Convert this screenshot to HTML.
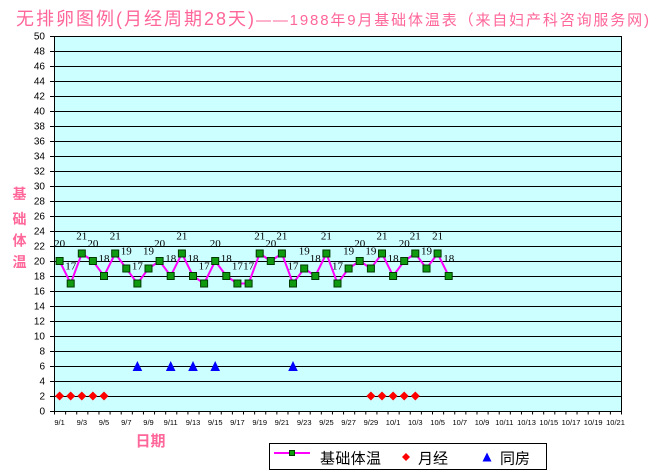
<!DOCTYPE html>
<html><head><meta charset="utf-8"><style>
html,body{margin:0;padding:0;background:#fff;}
svg{display:block;}
</style></head><body>
<svg width="650" height="473" viewBox="0 0 650 473" xmlns="http://www.w3.org/2000/svg">
<rect x="0" y="0" width="650" height="473" fill="#fff"/>
<!-- title -->
<text x="16" y="25" font-family="'Liberation Sans','Noto Sans CJK SC',sans-serif" font-size="18" fill="#FF6699" textLength="238" lengthAdjust="spacing">无排卵图例(月经周期28天)</text>
<text x="256" y="25" font-family="'Liberation Sans','Noto Sans CJK SC',sans-serif" font-size="15" fill="#FF6699" textLength="393" lengthAdjust="spacing">——1988年9月基础体温表（来自妇产科咨询服务网)</text>
<!-- plot area -->
<rect x="54.5" y="36.5" width="567" height="375" fill="#CCFFFF" stroke="none"/>
<g stroke="#000" stroke-width="1">
<path d="M54 396.5H621M54 381.5H621M54 366.5H621M54 351.5H621M54 336.5H621M54 321.5H621M54 306.5H621M54 291.5H621M54 276.5H621M54 261.5H621M54 246.5H621M54 231.5H621M54 216.5H621M54 201.5H621M54 186.5H621M54 171.5H621M54 156.5H621M54 141.5H621M54 126.5H621M54 111.5H621M54 96.5H621M54 81.5H621M54 66.5H621M54 51.5H621"/>
</g>
<rect x="54.5" y="36.5" width="567" height="375" fill="none" stroke="#000" stroke-width="1"/>
<!-- axis ticks -->
<line x1="54" y1="413" x2="622" y2="413" stroke="#000" stroke-width="3" stroke-dasharray="1 10.118"/>
<line x1="52" y1="412" x2="52" y2="35" stroke="#000" stroke-width="4" stroke-dasharray="1 14"/>
<!-- y labels -->
<g font-family="'Liberation Sans',sans-serif" font-size="10" fill="#000" text-anchor="end">
<text x="45" y="414.5">0</text><text x="45" y="399.5">2</text><text x="45" y="384.5">4</text><text x="45" y="369.5">6</text><text x="45" y="354.5">8</text><text x="45" y="339.5">10</text><text x="45" y="324.5">12</text><text x="45" y="309.5">14</text><text x="45" y="294.5">16</text><text x="45" y="279.5">18</text><text x="45" y="264.5">20</text><text x="45" y="249.5">22</text><text x="45" y="234.5">24</text><text x="45" y="219.5">26</text><text x="45" y="204.5">28</text><text x="45" y="189.5">30</text><text x="45" y="174.5">32</text><text x="45" y="159.5">34</text><text x="45" y="144.5">36</text><text x="45" y="129.5">38</text><text x="45" y="114.5">40</text><text x="45" y="99.5">42</text><text x="45" y="84.5">44</text><text x="45" y="69.5">46</text><text x="45" y="54.5">48</text><text x="45" y="39.5">50</text>
</g>
<!-- x labels -->
<g font-family="'Liberation Sans',sans-serif" font-size="7.5" fill="#000" text-anchor="middle">
<text x="59.6" y="425">9/1</text><text x="81.8" y="425">9/3</text><text x="104.0" y="425">9/5</text><text x="126.3" y="425">9/7</text><text x="148.5" y="425">9/9</text><text x="170.7" y="425">9/11</text><text x="193.0" y="425">9/13</text><text x="215.2" y="425">9/15</text><text x="237.4" y="425">9/17</text><text x="259.7" y="425">9/19</text><text x="281.9" y="425">9/21</text><text x="304.2" y="425">9/23</text><text x="326.4" y="425">9/25</text><text x="348.6" y="425">9/27</text><text x="370.9" y="425">9/29</text><text x="393.1" y="425">10/1</text><text x="415.3" y="425">10/3</text><text x="437.6" y="425">10/5</text><text x="459.8" y="425">10/7</text><text x="482.0" y="425">10/9</text><text x="504.3" y="425">10/11</text><text x="526.5" y="425">10/13</text><text x="548.8" y="425">10/15</text><text x="571.0" y="425">10/17</text><text x="593.2" y="425">10/19</text><text x="615.5" y="425">10/21</text>
</g>
<!-- axis titles -->
<g font-family="'Liberation Sans','Noto Sans CJK SC',sans-serif" font-size="14" font-weight="bold" fill="#FF6699" text-anchor="middle">
<text x="19.5" y="199">基</text><text x="19.5" y="224">础</text><text x="19.5" y="245.5">体</text><text x="19.5" y="267">温</text>
</g>
<text x="150.5" y="446" font-family="'Liberation Sans','Noto Sans CJK SC',sans-serif" font-size="15" font-weight="bold" fill="#FF6699" text-anchor="middle">日期</text>
<!-- temperature series -->
<polyline fill="none" stroke="#FF00FF" stroke-width="2" points="59.6,261 70.7,283.5 81.8,253.5 92.9,261 104.0,276 115.2,253.5 126.3,268.5 137.4,283.5 148.5,268.5 159.6,261 170.7,276 181.9,253.5 193.0,276 204.1,283.5 215.2,261 226.3,276 237.4,283.5 248.6,283.5 259.7,253.5 270.8,261 281.9,253.5 293.0,283.5 304.2,268.5 315.3,276 326.4,253.5 337.5,283.5 348.6,268.5 359.7,261 370.9,268.5 382.0,253.5 393.1,276 404.2,261 415.3,253.5 426.5,268.5 437.6,253.5 448.7,276"/>
<g fill="#109A10" stroke="#003A00" stroke-width="1">
<rect x="56.1" y="257.5" width="7" height="7"/><rect x="67.2" y="280" width="7" height="7"/><rect x="78.3" y="250" width="7" height="7"/><rect x="89.4" y="257.5" width="7" height="7"/><rect x="100.5" y="272.5" width="7" height="7"/><rect x="111.7" y="250" width="7" height="7"/><rect x="122.8" y="265" width="7" height="7"/><rect x="133.9" y="280" width="7" height="7"/><rect x="145.0" y="265" width="7" height="7"/><rect x="156.1" y="257.5" width="7" height="7"/><rect x="167.2" y="272.5" width="7" height="7"/><rect x="178.4" y="250" width="7" height="7"/><rect x="189.5" y="272.5" width="7" height="7"/><rect x="200.6" y="280" width="7" height="7"/><rect x="211.7" y="257.5" width="7" height="7"/><rect x="222.8" y="272.5" width="7" height="7"/><rect x="233.9" y="280" width="7" height="7"/><rect x="245.1" y="280" width="7" height="7"/><rect x="256.2" y="250" width="7" height="7"/><rect x="267.3" y="257.5" width="7" height="7"/><rect x="278.4" y="250" width="7" height="7"/><rect x="289.5" y="280" width="7" height="7"/><rect x="300.7" y="265" width="7" height="7"/><rect x="311.8" y="272.5" width="7" height="7"/><rect x="322.9" y="250" width="7" height="7"/><rect x="334.0" y="280" width="7" height="7"/><rect x="345.1" y="265" width="7" height="7"/><rect x="356.2" y="257.5" width="7" height="7"/><rect x="367.4" y="265" width="7" height="7"/><rect x="378.5" y="250" width="7" height="7"/><rect x="389.6" y="272.5" width="7" height="7"/><rect x="400.7" y="257.5" width="7" height="7"/><rect x="411.8" y="250" width="7" height="7"/><rect x="423.0" y="265" width="7" height="7"/><rect x="434.1" y="250" width="7" height="7"/><rect x="445.2" y="272.5" width="7" height="7"/>
</g>
<g font-family="'Liberation Serif',serif" font-size="11" fill="#000" text-anchor="middle">
<text x="59.6" y="247">20</text><text x="70.7" y="269.5">17</text><text x="81.8" y="239.5">21</text><text x="92.9" y="247">20</text><text x="104.0" y="262">18</text><text x="115.2" y="239.5">21</text><text x="126.3" y="254.5">19</text><text x="137.4" y="269.5">17</text><text x="148.5" y="254.5">19</text><text x="159.6" y="247">20</text><text x="170.7" y="262">18</text><text x="181.9" y="239.5">21</text><text x="193.0" y="262">18</text><text x="204.1" y="269.5">17</text><text x="215.2" y="247">20</text><text x="226.3" y="262">18</text><text x="237.4" y="269.5">17</text><text x="248.6" y="269.5">17</text><text x="259.7" y="239.5">21</text><text x="270.8" y="247">20</text><text x="281.9" y="239.5">21</text><text x="293.0" y="269.5">17</text><text x="304.2" y="254.5">19</text><text x="315.3" y="262">18</text><text x="326.4" y="239.5">21</text><text x="337.5" y="269.5">17</text><text x="348.6" y="254.5">19</text><text x="359.7" y="247">20</text><text x="370.9" y="254.5">19</text><text x="382.0" y="239.5">21</text><text x="393.1" y="262">18</text><text x="404.2" y="247">20</text><text x="415.3" y="239.5">21</text><text x="426.5" y="254.5">19</text><text x="437.6" y="239.5">21</text><text x="448.7" y="262">18</text>
</g>
<!-- menstruation diamonds -->
<g fill="#FF0000">
<polygon points="59.6,391.5 64.1,396 59.6,400.5 55.1,396"/><polygon points="70.7,391.5 75.2,396 70.7,400.5 66.2,396"/><polygon points="81.8,391.5 86.3,396 81.8,400.5 77.3,396"/><polygon points="92.9,391.5 97.4,396 92.9,400.5 88.4,396"/><polygon points="104.0,391.5 108.5,396 104.0,400.5 99.5,396"/>
<polygon points="370.9,391.5 375.4,396 370.9,400.5 366.4,396"/><polygon points="382.0,391.5 386.5,396 382.0,400.5 377.5,396"/><polygon points="393.1,391.5 397.6,396 393.1,400.5 388.6,396"/><polygon points="404.2,391.5 408.7,396 404.2,400.5 399.7,396"/><polygon points="415.3,391.5 419.8,396 415.3,400.5 410.8,396"/>
</g>
<!-- intercourse triangles -->
<g fill="#0000FF">
<polygon points="137.4,361 142.2,371 132.6,371"/><polygon points="170.7,361 175.5,371 165.9,371"/><polygon points="193.0,361 197.8,371 188.2,371"/><polygon points="215.2,361 220.0,371 210.4,371"/><polygon points="293.0,361 297.8,371 288.2,371"/>
</g>
<!-- legend -->
<rect x="269.5" y="443.5" width="277" height="26" fill="#fff" stroke="#000" stroke-width="1"/>
<line x1="274" y1="453" x2="310" y2="453" stroke="#FF00FF" stroke-width="2"/>
<rect x="289.5" y="450.5" width="5" height="5" fill="#109A10" stroke="#003A00" stroke-width="1"/>
<polygon points="406,453 410,457 406,461 402,457" fill="#FF0000"/>
<polygon points="487,452.5 491.5,461.5 482.5,461.5" fill="#0000FF"/>
<g font-family="'Liberation Sans','Noto Sans CJK SC',sans-serif" font-size="15" fill="#000">
<text x="320" y="463.5" textLength="61" lengthAdjust="spacing">基础体温</text>
<text x="418" y="463.5">月经</text>
<text x="500" y="463.5">同房</text>
</g>
</svg>
</body></html>
